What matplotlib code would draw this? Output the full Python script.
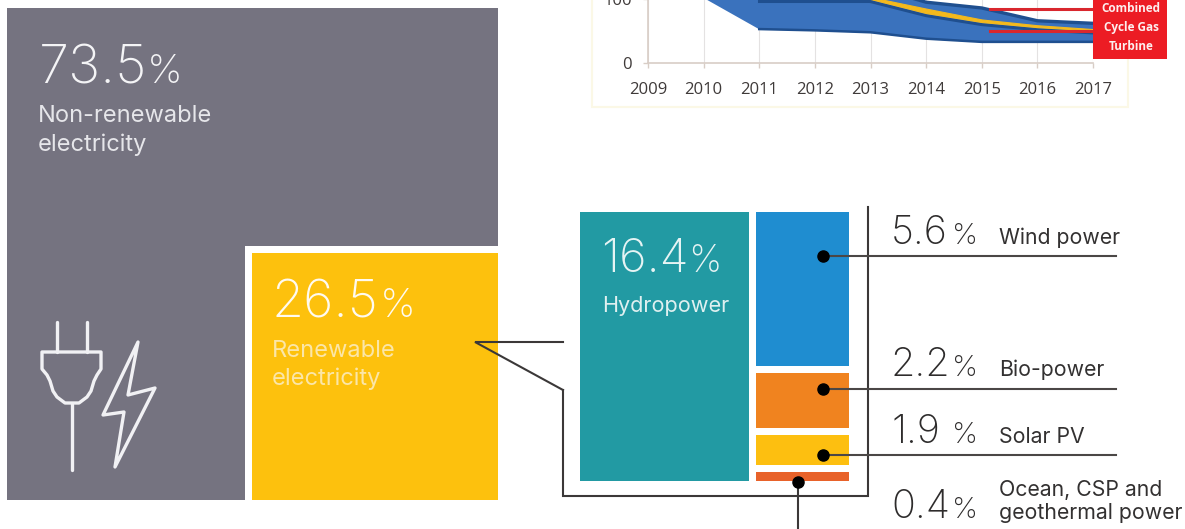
import matplotlib
matplotlib.use('Agg')
import matplotlib.pyplot as plt
from matplotlib.patches import Rectangle, Polygon

W, H = 1185, 529

# area chart values
years = [2009, 2010, 2011, 2012, 2013, 2014, 2015, 2016, 2017]
band_low = [130, 102, 53, 51, 48, 38, 33, 33, 33]
band_top = [190, 180, 150, 135, 120, 95, 86, 66, 62]
yellow_top = [None, None, None, None, 103, 85, 68, 59, 53]
yellow_low = [None, None, None, None, 100, 78, 64, 56, 51]
strip_years = [2011, 2012, 2013]
strip_vals = [97, 97, 97]
chart_ticks_y = [0, 100]

# treemap, shares and block sizes in px
main_labels = ['Non-renewable\nelectricity', 'Renewable\nelectricity']
main_shares = ['73.5', '26.5']
hydro_share = '16.4'
side_names = ['Wind power', 'Bio-power', 'Solar PV', 'Ocean, CSP and\ngeothermal power']
side_shares = ['5.6', '2.2', '1.9', '0.4']
side_heights = [154, 55, 30, 9]
side_colors = ['#1f8dd0', '#f0831f', '#fdbf10', '#e8622a']

GREY = '#757380'
YELLOW = '#fdc10d'
TEAL = '#229aa3'
LINE = '#3b3838'
DARK = '#1f4f8f'

plt.rcParams['font.family'] = ['Inter', 'DejaVu Sans']

fig = plt.figure(figsize=(W / 100, H / 100), dpi=100, facecolor='white')

# chart goes past the top edge of the figure, like the crop in the original
chart_h = 83.2
cx = fig.add_axes([648 / W, (H - 63) / H, (1093 - 648) / W, chart_h / H], zorder=1)
cx.set_xlim(2009, 2017)
cx.set_ylim(0, 130)
cx.patch.set_alpha(0)
cx.fill_between(years, band_low, band_top, color='#3a72bd', lw=0, zorder=3)
cx.plot(years[2:], band_low[2:], color=DARK, lw=1.8, zorder=4)
cx.plot(years[4:], band_top[4:], color=DARK, lw=2.4, zorder=4)
cx.plot(strip_years, strip_vals, color=DARK, lw=2.2, zorder=4)
lower_years = [y for y, v in zip(years, yellow_low) if v is not None]
lower_vals = [v for v in yellow_low if v is not None]
upper_vals = [v for v in yellow_top if v is not None]
cx.plot(lower_years, [v - 4 for v in lower_vals], color=DARK, lw=2.2, zorder=4)
cx.fill_between(lower_years, lower_vals, upper_vals, color='#f4b91c', lw=0.8, zorder=5)
for s in ['top', 'right']:
    cx.spines[s].set_visible(False)
for s in ['left', 'bottom']:
    cx.spines[s].set_color('#d8cdc6')
    cx.spines[s].set_linewidth(1.2)
cx.set_xticks(years)
cx.set_yticks(chart_ticks_y)
cx.tick_params(axis='x', length=3.6, width=1, color='#d8cdc6', pad=10, labelsize=12, labelcolor='#3f3a39')
cx.tick_params(axis='y', length=3.6, width=1, color='#d8cdc6', pad=8, labelsize=12, labelcolor='#3f3a39')
for lab in cx.get_xticklabels() + cx.get_yticklabels():
    lab.set_family(['Open Sans', 'DejaVu Sans'])
    lab.set_fontweight('medium')
cx.grid(axis='x', color='#e4e2e2', lw=0.8, zorder=0)

# everything else in px on a full figure axes
ax = fig.add_axes([0, 0, 1, 1], zorder=2)
ax.set_xlim(0, W)
ax.set_ylim(H, 0)
ax.axis('off')

ax.add_patch(Rectangle((592, -5), 536, 112, fill=False, ec='#fbf8e6', lw=1.5))
ax.add_patch(Rectangle((1093, -5), 74, 64, fc='#ec1c24', ec='none', zorder=5))
for y in [8.5, 31]:
    ax.plot([990, 1093], [y, y], color='#d9272e', lw=2.2, zorder=4)
for y, t in zip([8, 27, 46], ['Combined', 'Cycle Gas', 'Turbine']):
    ax.text(1131, y, t, color='#fdeeee', fontsize=8.5, fontweight='bold', ha='center', va='center',
            family=['Open Sans', 'DejaVu Sans'], zorder=6)

# left blocks
ax.bar(7, 238, width=491, bottom=8, align='edge', color=GREY)
ax.bar(7, 254, width=238, bottom=246, align='edge', color=GREY)
ax.bar(252, 247, width=246, bottom=253, align='edge', color=YELLOW)

# hydro and stacked side blocks
ax.bar(580, 269, width=169, bottom=212, align='edge', color=TEAL)
y = 212
for h, c in zip(side_heights, side_colors):
    ax.bar(756, h, width=93, bottom=y, align='edge', color=c)
    y += h + 7

# connector lines
ax.plot([563, 475, 563], [342, 342, 390], color=LINE, lw=1.5, solid_joinstyle='miter', zorder=3)
ax.plot([563, 563, 868, 868], [390, 496, 496, 207], color=LINE, lw=1.5, solid_joinstyle='miter', zorder=3)
for yy in [255.5, 389, 455]:
    ax.plot([823, 1116], [yy, yy], color='#4b4746', lw=1.5, zorder=3)
    ax.plot([823], [yy], 'o', color='black', ms=8, zorder=4)
ax.plot([798, 798], [482, 529], color=LINE, lw=1.5, zorder=3)
ax.plot([798], [482], 'o', color='black', ms=8, zorder=4)

# plug and bolt icon
ICON = '#f1f1f4'
ax.plot([57, 57], [322, 352], color=ICON, lw=2.4, solid_capstyle='round')
ax.plot([87, 87], [322, 352], color=ICON, lw=2.4, solid_capstyle='round')
ax.plot([72, 72], [404, 470], color=ICON, lw=2.4, solid_capstyle='round')
plug_x = [42, 42, 47, 50, 53, 57, 65, 79, 87, 91, 94, 97, 101, 101]
plug_y = [352, 369, 375, 381, 391, 397, 403, 403, 397, 391, 381, 375, 369, 352]
ax.add_patch(Polygon(list(zip(plug_x, plug_y)), closed=True, fill=False, ec=ICON, lw=2.4, joinstyle='round'))
bolt_x = [138, 103, 124, 115, 155, 128]
bolt_y = [342, 415, 412, 467, 388, 395]
ax.add_patch(Polygon(list(zip(bolt_x, bolt_y)), closed=True, fill=False, ec=ICON, lw=2.4, joinstyle='round'))

# text
def big(x, base, share, px, size, psize, color):
    ax.text(x, base, share, color=color, fontsize=size, fontweight='light', va='baseline')
    ax.text(px, base, '%', color=color, fontsize=psize, fontweight='light', va='baseline')

big(39, 83, main_shares[0], 147, 39, 29, '#f4f4f6')
ax.text(38, 122, main_labels[0].split('\n')[0], color='#e6e6ea', fontsize=17, va='baseline')
ax.text(38, 151, main_labels[0].split('\n')[1], color='#e6e6ea', fontsize=17, va='baseline')
big(272, 317, main_shares[1], 380, 37.5, 29, '#fffaf0')
ax.text(272, 357, main_labels[1].split('\n')[0], color='#fbe6a8', fontsize=17, va='baseline')
ax.text(272, 385, main_labels[1].split('\n')[1], color='#fbe6a8', fontsize=17, va='baseline')
big(601, 272, hydro_share, 688, 34, 27, '#e6f4f4')
ax.text(602, 312, 'Hydropower', color='#dff0f0', fontsize=15.6, va='baseline')

side_base = [244, 376, 443, 518]
for share, base in zip(side_shares, side_base):
    big(891, base, share, 952, 28.5, 21, '#2e2c2c')
for name, base in zip(side_names[:3], side_base[:3]):
    ax.text(999, base, name, color='#333131', fontsize=15.3, va='baseline')
ocean_lines = side_names[3].split('\n')
ax.text(999, 496, ocean_lines[0], color='#333131', fontsize=15.3, va='baseline')
ax.text(999, 519, ocean_lines[1], color='#333131', fontsize=15.3, va='baseline')

fig.savefig('out.png', dpi=100)
